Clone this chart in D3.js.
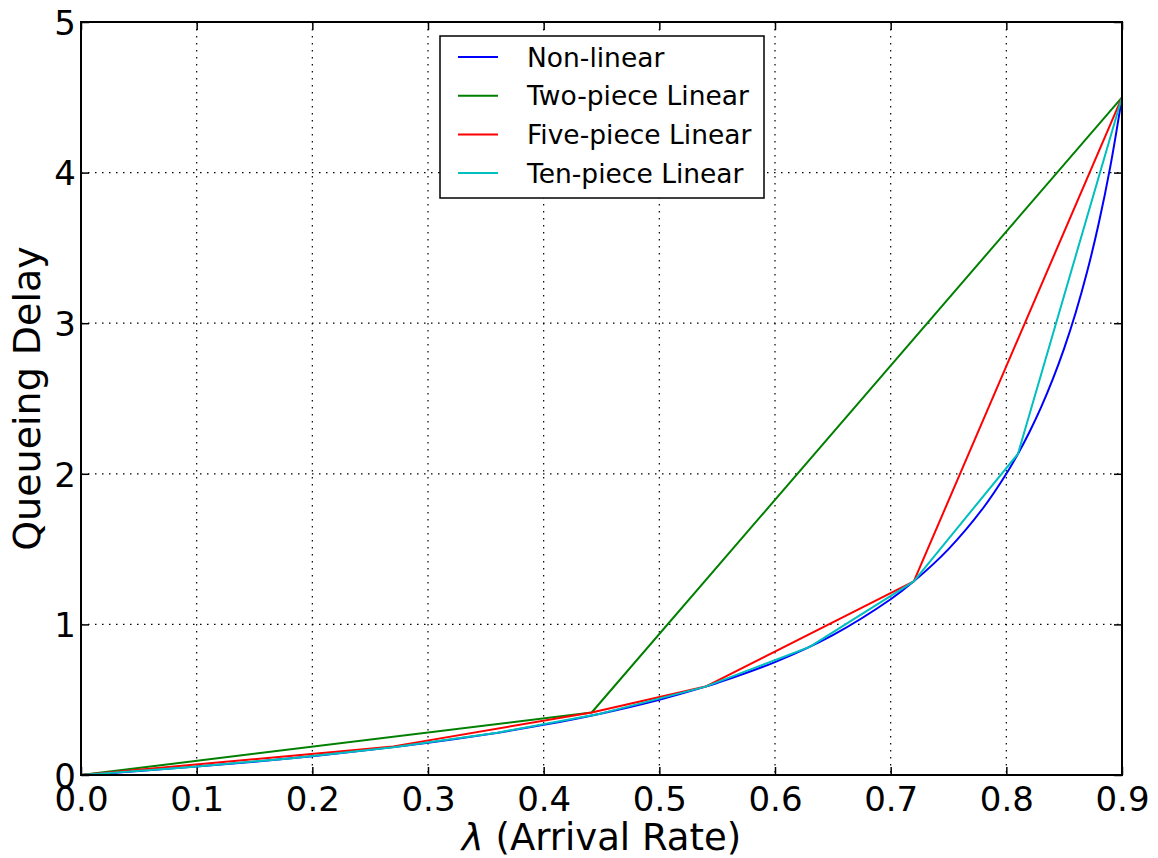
<!DOCTYPE html>
<html>
<head>
<meta charset="utf-8">
<script src="https://cdn.jsdelivr.net/npm/d3@7"></script>
<style>
  html, body { margin: 0; padding: 0; background: #fff; }
  svg { display: block; }
  text { font-family: "DejaVu Sans", sans-serif; fill: #000; }
</style>
</head>
<body>
<svg id="chart" width="1158" height="858"></svg>
<script>
// Arrival rate samples and queueing delay of the exact (non-linear) model
const nonLinearX = [0, 0.05, 0.1, 0.15, 0.2, 0.25, 0.3, 0.35, 0.4, 0.45, 0.5, 0.54, 0.55, 0.6, 0.65, 0.7, 0.72, 0.75, 0.78, 0.8, 0.81, 0.82, 0.83, 0.84, 0.85, 0.86, 0.87, 0.88, 0.89, 0.9];
const nonLinearY = [0, 0.026, 0.056, 0.088, 0.125, 0.167, 0.214, 0.269, 0.333, 0.409, 0.5, 0.587, 0.611, 0.75, 0.929, 1.167, 1.286, 1.5, 1.773, 2.0, 2.132, 2.278, 2.441, 2.625, 2.833, 3.071, 3.346, 3.667, 4.045, 4.5];

// Piecewise-linear approximations (breakpoints)
const twoPieceX = [0, 0.4415, 0.9];
const twoPieceY = [0, 0.415, 4.5];

const fivePieceX = [0, 0.27, 0.4415, 0.54, 0.72, 0.9];
const fivePieceY = [0, 0.19, 0.415, 0.587, 1.286, 4.5];

const tenPieceX = [0, 0.09, 0.18, 0.27, 0.36, 0.45, 0.54, 0.63, 0.72, 0.81, 0.9];
const tenPieceY = [0, 0.0495, 0.11, 0.185, 0.281, 0.409, 0.587, 0.851, 1.286, 2.132, 4.5];

const seriesNames = ["Non-linear", "Two-piece Linear", "Five-piece Linear", "Ten-piece Linear"];
const seriesColors = ["#0000ff", "#008000", "#ff0000", "#00bfbf"];

const xTicks = [0, 0.1, 0.2, 0.3, 0.4, 0.5, 0.6, 0.7, 0.8, 0.9];
const yTicks = [0, 1, 2, 3, 4, 5];

const series = [
  { x: nonLinearX, y: nonLinearY, smooth: true },
  { x: twoPieceX, y: twoPieceY },
  { x: fivePieceX, y: fivePieceY },
  { x: tenPieceX, y: tenPieceY }
];

const svg = d3.select("#chart");
const plotLeft = 81, plotRight = 1122, plotTop = 22, plotBottom = 775;

const x = d3.scaleLinear().domain([0, 0.9]).range([plotLeft, plotRight]);
const y = d3.scaleLinear().domain([0, 5]).range([plotBottom, plotTop]);

// grid
const grid = svg.append("g");
grid.selectAll("line.gx").data(xTicks.slice(1, -1)).join("line")
  .attr("x1", d => x(d)).attr("x2", d => x(d))
  .attr("y1", plotTop).attr("y2", plotBottom)
  .attr("stroke", "#000").attr("stroke-width", 1.2)
  .attr("stroke-dasharray", "1.5,5.5");
grid.selectAll("line.gy").data(yTicks.slice(1, -1)).join("line")
  .attr("y1", d => y(d)).attr("y2", d => y(d))
  .attr("x1", plotLeft).attr("x2", plotRight)
  .attr("stroke", "#000").attr("stroke-width", 1.2)
  .attr("stroke-dasharray", "1.5,5.5");

// axes with inward ticks on all four sides
const tickLen = 8;
const fmtX = d3.format(".1f");
const axB = svg.append("g").attr("transform", `translate(0,${plotBottom})`)
  .call(d3.axisBottom(x).tickValues(xTicks).tickFormat(fmtX).tickSize(-tickLen).tickPadding(12));
const axT = svg.append("g").attr("transform", `translate(0,${plotTop})`)
  .call(d3.axisTop(x).tickValues(xTicks).tickFormat("").tickSize(-tickLen));
const axL = svg.append("g").attr("transform", `translate(${plotLeft},0)`)
  .call(d3.axisLeft(y).tickValues(yTicks).tickFormat(d3.format("d")).tickSize(-tickLen).tickPadding(5));
const axR = svg.append("g").attr("transform", `translate(${plotRight},0)`)
  .call(d3.axisRight(y).tickValues(yTicks).tickFormat("").tickSize(-tickLen));

[axB, axT, axL, axR].forEach(a => {
  a.select(".domain").remove();
  a.selectAll(".tick line").attr("stroke", "#000").attr("stroke-width", 1.5);
  a.selectAll(".tick text").style("font-family", "DejaVu Sans").style("font-size", "34px").attr("fill", "#000");
});
axB.selectAll(".tick text").attr("dy", "0.71em");
axL.selectAll(".tick text").attr("dy", "0.36em");

// series lines
const plot = svg.append("g");
series.forEach((s, i) => {
  const pts = s.x.map((v, k) => [v, s.y[k]]);
  const line = d3.line().x(d => x(d[0])).y(d => y(d[1]))
    .curve(s.smooth ? d3.curveCatmullRom.alpha(0.5) : d3.curveLinear);
  plot.append("path").datum(pts)
    .attr("d", line)
    .attr("fill", "none")
    .attr("stroke", seriesColors[i])
    .attr("stroke-width", 2)
    .attr("stroke-linejoin", "round");
});

// frame
svg.append("rect")
  .attr("x", plotLeft).attr("y", plotTop)
  .attr("width", plotRight - plotLeft).attr("height", plotBottom - plotTop)
  .attr("fill", "none").attr("stroke", "#000").attr("stroke-width", 2);

// legend
const lg = svg.append("g");
lg.append("rect").attr("x", 440).attr("y", 36).attr("width", 324).attr("height", 162)
  .attr("fill", "#fff").attr("stroke", "#000").attr("stroke-width", 1.5);
seriesNames.forEach((name, i) => {
  const yy = 57 + i * 38.7;
  lg.append("line").attr("x1", 458).attr("x2", 498).attr("y1", yy).attr("y2", yy)
    .attr("stroke", seriesColors[i]).attr("stroke-width", 2);
  lg.append("text").attr("x", 527).attr("y", yy).attr("dy", "0.36em")
    .style("font-size", "26.5px").text(name);
});

// axis labels
const xl = svg.append("text")
  .attr("x", (plotLeft + plotRight) / 2).attr("y", 850)
  .attr("text-anchor", "middle")
  .style("font-size", "37px");
xl.append("tspan").style("font-style", "italic").text("λ");
xl.append("tspan").text(" (Arrival Rate)");

svg.append("text")
  .attr("transform", `translate(40,${(plotTop + plotBottom) / 2}) rotate(-90)`)
  .attr("text-anchor", "middle")
  .style("font-size", "38px")
  .text("Queueing Delay");
</script>
</body>
</html>
